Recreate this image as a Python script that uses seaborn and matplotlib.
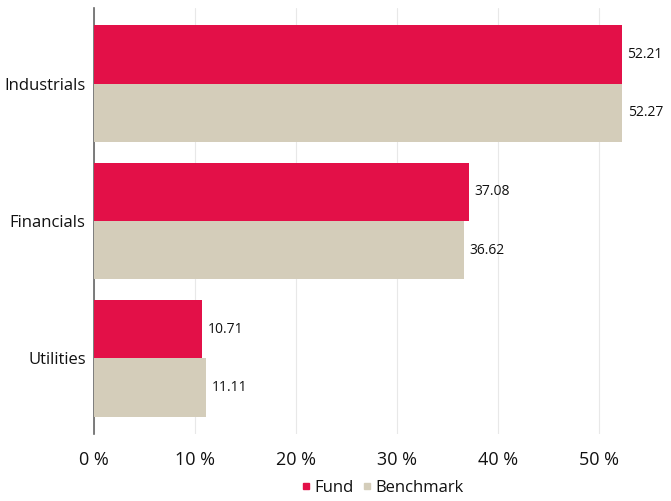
import matplotlib
matplotlib.use("Agg")
import matplotlib.pyplot as plt
import pandas as pd
import seaborn as sns
from matplotlib.lines import Line2D

SECTORS = ["Industrials", "Financials", "Utilities"]
FUND = [52.21, 37.08, 10.71]
BENCHMARK = [52.27, 36.62, 11.11]
SERIES = ["Fund", "Benchmark"]
COLORS = {"Fund": "#e31048", "Benchmark": "#d4cdba"}

df = pd.DataFrame({
    "sector": SECTORS * 2,
    "value": FUND + BENCHMARK,
    "series": ["Fund"] * len(SECTORS) + ["Benchmark"] * len(SECTORS),
})

sns.set_style("white")
plt.rcParams["font.family"] = ["Open Sans", "DejaVu Sans"]

fig = plt.figure(figsize=(6.71, 5.01), dpi=100)
ax = fig.add_axes([94 / 671, 1 - 434 / 501, (660 - 94) / 671, (434 - 8) / 501])

sns.barplot(data=df, y="sector", x="value", hue="series", order=SECTORS,
            hue_order=SERIES, palette=COLORS, orient="h", width=0.85,
            saturation=1, ax=ax, legend=False, zorder=3, linewidth=0)

for cont in ax.containers:
    ax.bar_label(cont, fmt="%.2f", padding=4, fontsize=10, color="#111111")

ax.set_xlim(0, 56.0)
ax.set_ylim(2.55, -0.55)
ax.set_xticks(range(0, 60, 10))
ax.set_xticklabels([f"{t} %" for t in range(0, 60, 10)])
ax.grid(axis="x", color="#e8e8e8", lw=0.8, zorder=0)
ax.set_xlabel("")
ax.set_ylabel("")
for s in ["top", "right", "bottom"]:
    ax.spines[s].set_visible(False)
ax.spines["left"].set_color("#666666")
ax.spines["left"].set_linewidth(1.2)
ax.tick_params(axis="x", length=0, labelsize=13, pad=12, labelcolor="#111111")
ax.tick_params(axis="y", length=0, labelsize=12, pad=6, labelcolor="#111111")

handles = [Line2D([], [], marker="s", ls="", color=COLORS[s], markersize=5)
           for s in SERIES]
fig.legend(handles, SERIES, loc="center", bbox_to_anchor=(0.569, 0.026),
           ncol=2, frameon=False, fontsize=12, handletextpad=0.15,
           columnspacing=0.45, handlelength=0.7, labelcolor="#111111")

fig.savefig("out.png", dpi=100)
